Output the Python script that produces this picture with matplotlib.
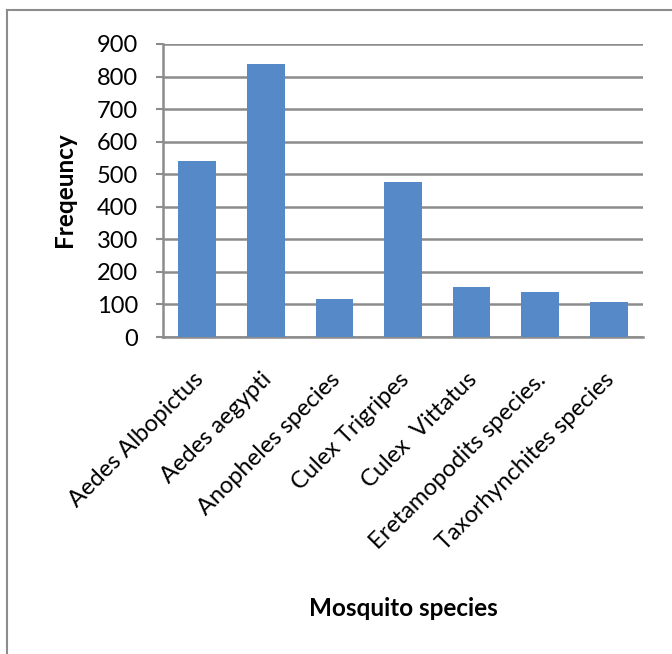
import matplotlib
matplotlib.use("Agg")
import matplotlib.pyplot as plt
import matplotlib.transforms as mtransforms
from matplotlib.lines import Line2D

categories = ["Aedes Albopictus", "Aedes aegypti", "Anopheles species",
              "Culex Trigripes", "Culex  Vittatus", "Eretamopodits species.",
              "Taxorhynchites species"]
frequency = [540, 840, 116, 475, 155, 138, 106]
yticks = [0, 100, 200, 300, 400, 500, 600, 700, 800, 900]

plt.rcParams['font.family'] = ['Lato', 'DejaVu Sans']

W, H = 672, 654
fig = plt.figure(figsize=(W / 100, H / 100), dpi=100)
ax = fig.add_axes([163 / W, 1 - 337 / H, (643 - 163) / W, (337 - 44) / H])

grid_c = '#8c8c8c'
x = list(range(len(categories)))
ax.bar(x, frequency, width=0.55, color='#5689c8', zorder=3)
ax.set_xlim(-0.5, len(categories) - 0.5)
ax.set_ylim(0, 900)
ax.set_yticks(yticks)
ax.set_yticklabels([str(v) for v in yticks], fontsize=17)
ax.yaxis.grid(True, color=grid_c, linewidth=1.8, zorder=0)
ax.set_axisbelow(True)

for s in ['top', 'right']:
    ax.spines[s].set_visible(False)
for s in ['left', 'bottom']:
    ax.spines[s].set_color(grid_c)
    ax.spines[s].set_linewidth(1.8)

ax.tick_params(axis='y', length=5, width=1.5, color=grid_c, pad=13)
ax.tick_params(axis='x', length=0, pad=23)
ax.set_xticks(x)
ax.set_xticklabels(categories, rotation=45, ha='right', rotation_mode='anchor', fontsize=17)
offset = mtransforms.ScaledTranslation(-5 / 100, 0, fig.dpi_scale_trans)
for lab in ax.get_xticklabels():
    lab.set_transform(lab.get_transform() + offset)

fig.text(65 / W, 1 - 190 / H, "Freqeuncy", rotation=90, ha='center', va='center',
         fontsize=17.5, fontweight='bold')
fig.text(403 / W, 1 - 608 / H, "Mosquito species", ha='center', va='center',
         fontsize=17.5, fontweight='bold')

# outer chart border
fig.add_artist(Line2D([6.5 / W, 1], [1 - 9.5 / H, 1 - 9.5 / H], color='#8c8c8c',
                      linewidth=1.5, transform=fig.transFigure))
fig.add_artist(Line2D([6.5 / W, 6.5 / W], [0, 1 - 9.5 / H], color='#8c8c8c',
                      linewidth=1.5, transform=fig.transFigure))

fig.savefig("out.png", dpi=100, facecolor='white')
